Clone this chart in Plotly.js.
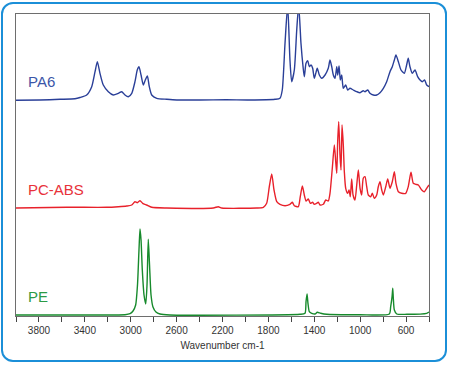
<!DOCTYPE html>
<html>
<head>
<meta charset="utf-8">
<script src="https://cdn.plot.ly/plotly-3.0.1.min.js"></script>
<style>
  html, body { margin: 0; padding: 0; background: #ffffff; }
  #wrap { position: relative; width: 450px; height: 365px; }
  #chart { position: absolute; left: 0; top: 0; width: 450px; height: 365px; }
  #frame { position: absolute; left: 1px; top: 2px; width: 442px; height: 356px;
           border: 2px solid #1b8fd8; border-radius: 12px; pointer-events: none; }
</style>
</head>
<body>
<div id="wrap"><div id="chart"></div><div id="frame"></div></div>
<script>
// ---- Data (wavenumber in cm-1, relative absorbance) ----
var seriesNames = ["PA6", "PC-ABS", "PE"];

var pa6Wn = [4000,3791,3616,3486,3442,3384,3340,3311,3291,3268,3239,3195,3152,3108,3079,3050,3021,2991,2963,2943,2928,2910,2890,2873,2855,2838,2817,2773,2686,2599,2396,2169,1960,1742,1699,1679,1655,1632,1612,1597,1574,1553,1536,1516,1498,1487,1472,1457,1443,1428,1414,1400,1387,1374,1356,1335,1306,1278,1263,1248,1234,1219,1204,1196,1184,1173,1161,1147,1126,1109,1089,1060,1030,1001,973,958,934,914,885,856,827,798,769,740,720,702,688,667,644,615,595,581,566,546,522,499,478,458,438,420,400];
var pa6Abs = [-0.3,0,0.7,1.3,2.5,5,13.3,28.3,38.3,26.7,15,8.3,5,6.7,8.3,5,3.3,6.7,18.3,30,33.3,25,15,20,24,13.3,5,1.7,0.7,0,0,0.3,0,0.7,1.7,10,56.7,95,40,18.3,30,70,95,56.7,33.3,23.3,36.7,39.3,33.3,35,31.7,21.7,26.7,31.7,25,21.7,25,31.7,40,33.3,25,21.7,33.3,25,34,20,25,11.7,15,10,11.7,10,8.3,7.3,9.3,8.3,10,6.7,5,5,7.3,11.7,18.3,28.3,33.3,40,45,38.3,30,26.7,35,41.7,33.3,26.7,30,23.3,20,18.3,20,15,13.3];

var pcAbsWn = [4000,3558,3209,3108,3035,2991,2963,2943,2919,2896,2861,2817,2686,2280,2237,2207,1902,1844,1815,1792,1771,1751,1727,1699,1655,1612,1591,1574,1539,1522,1504,1487,1472,1452,1435,1414,1400,1379,1365,1350,1321,1300,1278,1263,1243,1225,1213,1204,1196,1187,1176,1167,1158,1147,1138,1126,1109,1097,1086,1074,1062,1045,1030,1016,1001,987,973,958,943,929,908,894,877,856,842,827,812,798,777,760,740,720,702,688,667,638,603,581,557,537,516,493,463,441,420,400];
var pcAbsAbs = [0,0.7,0.7,1.3,2,3,6.3,5.3,7.3,4.7,3,0.7,0,0,1.3,0,0,0.7,4.7,21.3,34,18,6.3,3.7,2.3,3.7,5.7,2.3,1.3,11.3,22,13,7,9,4.7,5.7,3.7,4.7,5.7,3,3.7,8,7,14.7,39.7,63,46.3,34.7,66.3,86.3,53,38,83,63,36.3,19.7,14.7,18,11.3,29,13,8,23,38,19.7,13,29.7,31.3,21.3,13,11.3,14.7,9.7,13,21.3,26.3,18,13,21.3,29,19.7,26.3,36.3,24.7,16.3,14.7,14.7,21.3,35.7,24.7,23.7,23,18,16.3,19.7,23];

var peWn = [4000,3268,3050,3006,2980,2957,2941,2928,2919,2910,2899,2884,2869,2858,2847,2836,2823,2806,2780,2745,2658,1524,1481,1472,1463,1455,1443,1422,1394,1374,1344,1292,1001,746,734,722,716,711,702,681,594,420,400];
var peAbs = [0,0,0.3,1.3,4,10,30,65,86,75,45,20,11,30,75.7,50,20,8,3,1,0,0.7,1.7,13.3,21,11.7,3.3,1.7,1,2.7,1.7,0.7,0.3,1,8.3,18.3,26.7,16.7,5,1,0.7,1.7,3];

var tickValues = [3800,3400,3000,2600,2200,1800,1400,1000,600];
var tickLabels = ["3800","3400","3000","2600","2200","1800","1400","1000","600"];

// ---- Presentation ----
var offsets = [215, 107, 0];
var lineColors = ["#2a3f98", "#e8212b", "#178a2c"];
var labelColors = ["#3b56a8", "#e8323a", "#2b9a45"];

function shift(arr, off) { return arr.map(function (v) { return v + off; }); }

var xs = [pa6Wn, pcAbsWn, peWn];
var ys = [pa6Abs, pcAbsAbs, peAbs];

var traces = [];
for (var i = 0; i < 3; i++) {
  traces.push({
    x: xs[i], y: shift(ys[i], offsets[i] + 1),
    type: "scatter", mode: "lines", name: seriesNames[i],
    line: { color: lineColors[i], width: 1.4, shape: "spline", smoothing: 0.6 },
    hoverinfo: "skip"
  });
}

var annotations = seriesNames.map(function (n, i) {
  return {
    text: n, xref: "paper", yref: "y", x: 0.024, y: offsets[i] + 20,
    xanchor: "left", yanchor: "middle", showarrow: false,
    font: { family: "Liberation Sans, Arial, sans-serif", size: 15, color: labelColors[i] }
  };
});

var layout = {
  width: 450, height: 365,
  margin: { l: 16, r: 21, t: 14, b: 49 },
  paper_bgcolor: "#ffffff", plot_bgcolor: "#ffffff",
  showlegend: false,
  font: { family: "Liberation Sans, Arial, sans-serif", size: 10, color: "#333333" },
  xaxis: {
    range: [4000, 400], autorange: false,
    tickmode: "array", tickvals: tickValues, ticktext: tickLabels,
    ticks: "outside", ticklen: 5, tickwidth: 1, tickcolor: "#444444",
    minor: { dtick: 200, tick0: 0, ticks: "outside", ticklen: 5, tickwidth: 1, tickcolor: "#444444", showgrid: false },
    showline: true, linecolor: "#6e6e6e", linewidth: 1, mirror: true,
    showgrid: false, zeroline: false,
    tickfont: { size: 10, color: "#333333" },
    title: { text: "Wavenumber cm-1", font: { size: 10, color: "#333333" }, standoff: 6 }
  },
  yaxis: {
    range: [0, 302], autorange: false,
    showticklabels: false, ticks: "", showgrid: false, zeroline: false,
    showline: true, linecolor: "#6e6e6e", linewidth: 1, mirror: true
  },
  annotations: annotations
};

Plotly.newPlot("chart", traces, layout, { staticPlot: true, displayModeBar: false });
</script>
</body>
</html>
